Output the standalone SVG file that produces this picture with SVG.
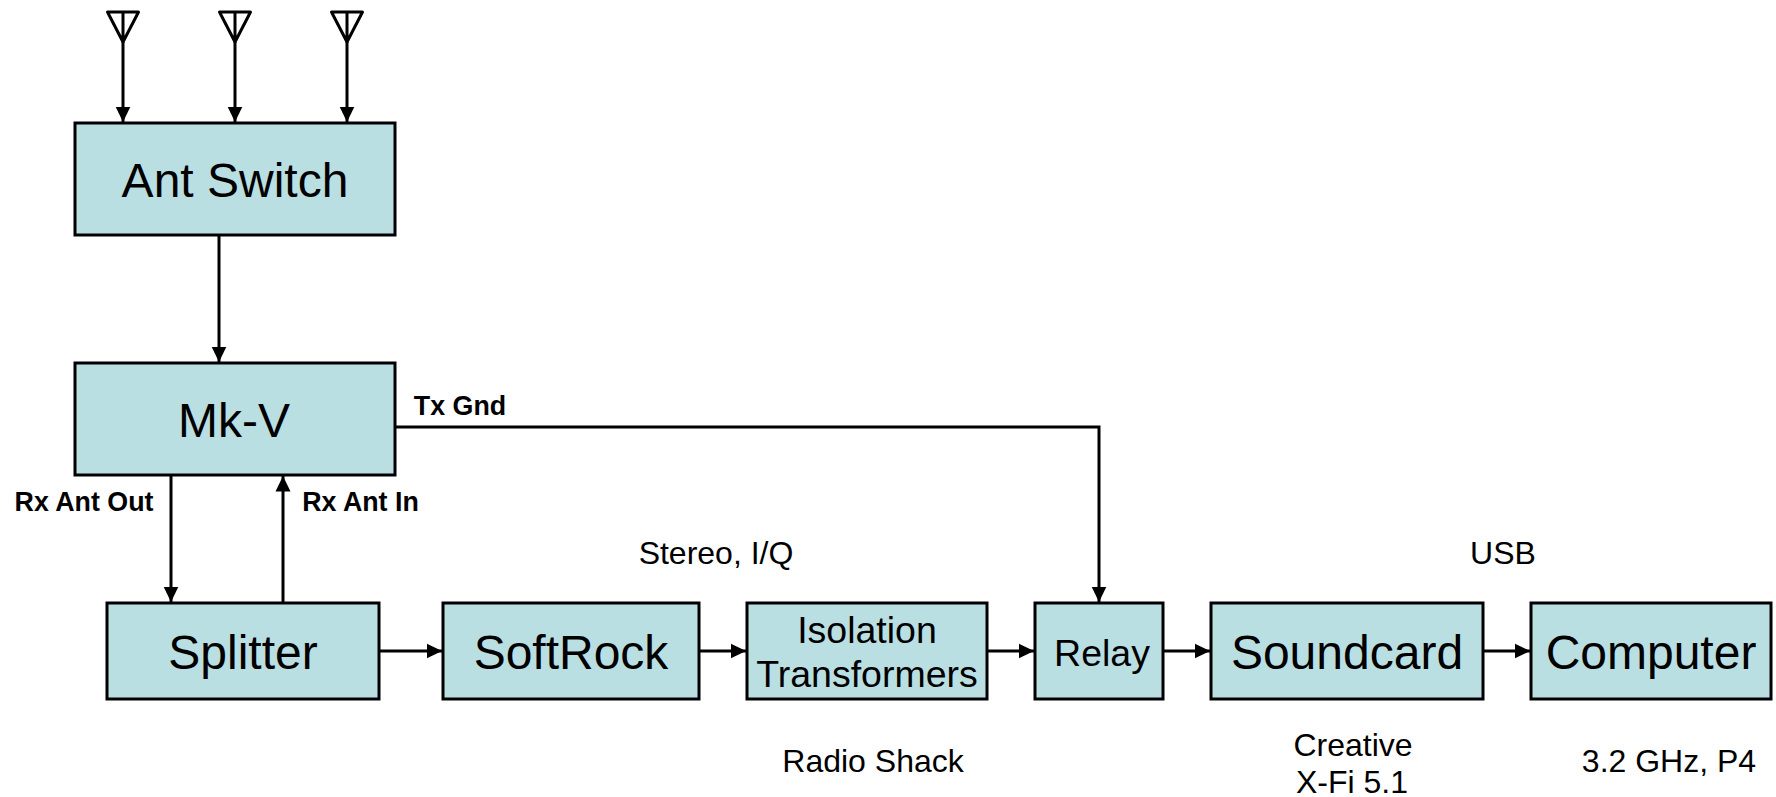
<svg xmlns="http://www.w3.org/2000/svg" width="1776" height="797" viewBox="0 0 1776 797">
<style>
text{font-family:"Liberation Sans",Arial,sans-serif;fill:#000;text-anchor:middle}
.b{fill:#badfe3;stroke:#000;stroke-width:3}
.l{font-size:48px}.m{font-size:37.5px}.s{font-size:32px}.t{font-size:26.8px;font-weight:bold}
.c{fill:none;stroke:#000;stroke-width:3}
.a{fill:none;stroke:#000;stroke-width:3;stroke-linejoin:round}
</style>
<defs><marker id="ah" markerUnits="userSpaceOnUse" markerWidth="16" markerHeight="16" refX="15.5" refY="8" orient="auto"><path d="M0 0.5L15.5 8L0 15.5Z" fill="#000"/></marker></defs>
<rect width="1776" height="797" fill="#fff"/>
<g id="connectors">
<path class="c" marker-end="url(#ah)" d="M123 42V122"/>
<path class="c" marker-end="url(#ah)" d="M235 42V122"/>
<path class="c" marker-end="url(#ah)" d="M347 42V122"/>
<path class="c" marker-end="url(#ah)" d="M219 236V362"/>
<path class="c" marker-end="url(#ah)" d="M171 476V602"/>
<path class="c" marker-end="url(#ah)" d="M283 602V476"/>
<path class="c" marker-end="url(#ah)" d="M380 651H442"/>
<path class="c" marker-end="url(#ah)" d="M700 651H746"/>
<path class="c" marker-end="url(#ah)" d="M988 651H1034"/>
<path class="c" marker-end="url(#ah)" d="M1164 651H1210"/>
<path class="c" marker-end="url(#ah)" d="M1484 651H1530"/>
<path class="c" marker-end="url(#ah)" d="M396 427H1099V602"/>
</g>
<g id="antenna1"><path class="a" d="M107.500 12H138.500L123 42ZM123 12V42"/></g>
<g id="antenna2"><path class="a" d="M219.500 12H250.500L235 42ZM235 12V42"/></g>
<g id="antenna3"><path class="a" d="M331.500 12H362.500L347 42ZM347 12V42"/></g>
<g id="ant-switch"><rect class="b" x="75" y="123" width="320" height="112"/><text class="l" x="235" y="197">Ant Switch</text></g>
<g id="mk-v"><rect class="b" x="75" y="363" width="320" height="112"/><text class="l" x="234" y="437">Mk-V</text></g>
<g id="splitter"><rect class="b" x="107" y="603" width="272" height="96"/><text class="l" x="243" y="669">Splitter</text></g>
<g id="softrock"><rect class="b" x="443" y="603" width="256" height="96"/><text class="l" x="571" y="669">SoftRock</text></g>
<g id="isolation"><rect class="b" x="747" y="603" width="240" height="96"/><text class="m" x="867" y="643">Isolation</text><text class="m" x="867" y="687">Transformers</text></g>
<g id="relay"><rect class="b" x="1035" y="603" width="128" height="96"/><text class="m" x="1102" y="666">Relay</text></g>
<g id="soundcard"><rect class="b" x="1211" y="603" width="272" height="96"/><text class="l" x="1347" y="669">Soundcard</text></g>
<g id="computer"><rect class="b" x="1531" y="603" width="240" height="96"/><text class="l" x="1651" y="669">Computer</text></g>
<g id="labels">
<text class="t" x="460" y="415">Tx Gnd</text>
<text class="t" x="84" y="511">Rx Ant Out</text>
<text class="t" x="360.500" y="511">Rx Ant In</text>
<text class="s" x="716" y="564">Stereo, I/Q</text>
<text class="s" x="1503" y="564">USB</text>
<text class="s" x="873" y="772">Radio Shack</text>
<text class="s" x="1353" y="756">Creative</text>
<text class="s" x="1352" y="793">X-Fi 5.1</text>
<text class="s" x="1669" y="772">3.2 GHz, P4</text>
</g>
</svg>
